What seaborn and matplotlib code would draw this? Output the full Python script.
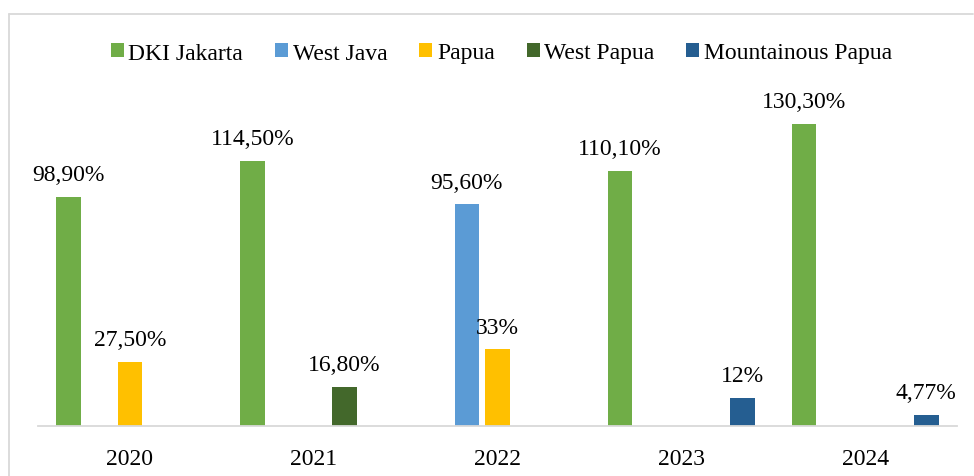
import matplotlib
matplotlib.use("Agg")
import matplotlib.pyplot as plt
import seaborn as sns
import pandas as pd
from matplotlib.lines import Line2D

years = ["2020", "2021", "2022", "2023", "2024"]
regions = ["DKI Jakarta", "West Java", "Papua", "West Papua", "Mountainous Papua"]
colors = ["#70AD47", "#5B9BD5", "#FFC000", "#43682B", "#255E91"]

dki_jakarta = [98.9, 114.5, None, 110.1, 130.3]
west_java = [None, None, 95.6, None, None]
papua = [27.5, None, 33.0, None, None]
west_papua = [None, 16.8, None, None, None]
mountainous_papua = [None, None, None, 12.0, 4.77]

dki_labels = ["98,90%", "114,50%", None, "110,10%", "130,30%"]
west_java_labels = [None, None, "95,60%", None, None]
papua_labels = ["27,50%", None, "33%", None, None]
west_papua_labels = [None, "16,80%", None, None, None]
mountainous_labels = [None, None, None, "12%", "4,77%"]

series = [dki_jakarta, west_java, papua, west_papua, mountainous_papua]
series_labels = [dki_labels, west_java_labels, papua_labels, west_papua_labels, mountainous_labels]

rows = []
for reg, vals, labs in zip(regions, series, series_labels):
    for y, v, l in zip(years, vals, labs):
        if v is not None:
            rows.append({"year": y, "region": reg, "value": v, "label": l})
df = pd.DataFrame(rows)

sns.set_theme(style="white")
plt.rcParams["font.family"] = ["Liberation Serif", "DejaVu Serif"]
plt.rcParams["text.color"] = "black"
plt.rcParams["xtick.color"] = "black"

fig = plt.figure(figsize=(9.74, 4.77), dpi=100)
ax = fig.add_axes([38 / 974, 1 - 426.7 / 477, 919 / 974, 324 / 477])

sns.barplot(data=df, x="year", y="value", hue="region", order=years,
            hue_order=regions, palette=colors, width=0.833, gap=0.2,
            errorbar=None, ax=ax, saturation=1, edgecolor="none")

for reg, cont in zip(regions, ax.containers):
    sub = df[df["region"] == reg].copy()
    sub["yi"] = sub["year"].map(years.index)
    sub = sub.sort_values("yi")
    labs = list(sub["label"])
    ax.bar_label(cont, labels=labs, padding=8.5, fontsize=17, color="black")

ax.set_ylim(0, 140)
ax.set_xlim(-0.5, 4.5)
ax.set_xlabel("")
ax.set_ylabel("")
ax.set_yticks([])
for s in ["top", "right", "left"]:
    ax.spines[s].set_visible(False)
ax.spines["bottom"].set_color("#d9d9d9")
ax.spines["bottom"].set_linewidth(1.3)
ax.tick_params(axis="x", length=0, pad=16, labelsize=17, colors="black")

sns.move_legend(ax, "center", bbox_to_anchor=(501.5 / 974, 1 - 54 / 477),
                bbox_transform=fig.transFigure, ncol=5, frameon=False,
                title=None, fontsize=17, handlelength=0.55, handleheight=0.55,
                handletextpad=0.2, columnspacing=1.35, labelcolor="black")

fig.add_artist(Line2D([8.5 / 974, 8.5 / 974], [0, 1 - 15 / 477],
                      transform=fig.transFigure, color="#d9d9d9", lw=1.3))
fig.add_artist(Line2D([8.5 / 974, 973 / 974], [1 - 15 / 477, 1 - 15 / 477],
                      transform=fig.transFigure, color="#d9d9d9", lw=1.3))

fig.savefig("out.png", dpi=100)
